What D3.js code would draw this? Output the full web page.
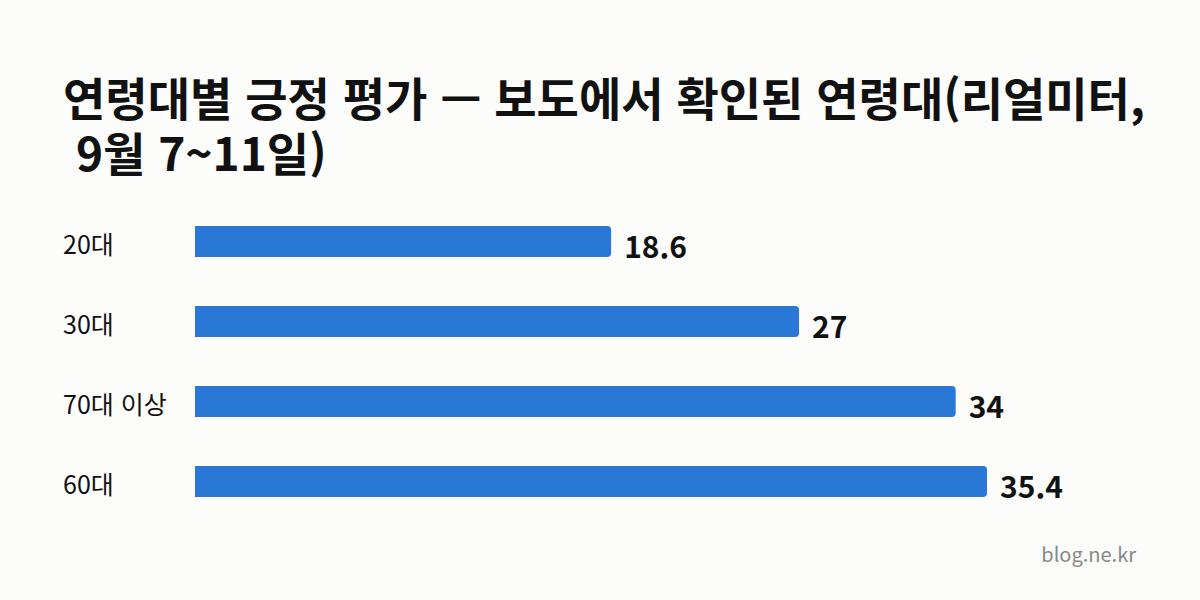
<!doctype html>
<html lang="ko">
<head>
<meta charset="utf-8">
<title>연령대별 긍정 평가</title>
<style>
  html, body { margin: 0; padding: 0; background: #fcfcfa; }
  svg { display: block; font-family: "Noto Sans CJK KR", "Noto Sans", sans-serif; }
</style>
</head>
<body>
<div id="chart"></div>
<script src="https://cdn.jsdelivr.net/npm/d3@7"></script>
<script>
// data
const categories = ["20대", "30대", "70대 이상", "60대"];
const values = [18.6, 27, 34, 35.4];
const titleLines = ["연령대별 긍정 평가 — 보도에서 확인된 연령대(리얼미터,", " 9월 7~11일)"];
const source = "blog.ne.kr";

const width = 1200, height = 600;
const barLeft = 195, barRight = 987; // bar area
const barTop = 226, bandStep = 80, barH = 31;

const svg = d3.select("#chart").append("svg")
  .attr("width", width)
  .attr("height", height);

svg.append("rect").attr("width", width).attr("height", height).attr("fill", "#fcfcfa");

// title, two lines
const title = svg.append("text")
  .attr("x", 63)
  .attr("y", 116)
  .attr("font-size", 46)
  .attr("font-weight", "bold")
  .attr("fill", "#111");
title.selectAll("tspan")
  .data(titleLines)
  .enter().append("tspan")
  .attr("x", 63)
  .attr("dy", (d, i) => i === 0 ? 0 : 55)
  .style("white-space", "pre")
  .text(d => d);

const xScale = d3.scaleLinear()
  .domain([0, d3.max(values)])
  .range([barLeft, barRight]);

// range sized so step = bandStep and bandwidth = barH
const yScale = d3.scaleBand()
  .domain(categories)
  .range([barTop, barTop + bandStep * (categories.length - 1) + barH])
  .paddingInner((bandStep - barH) / bandStep)
  .paddingOuter(0);

const rows = categories.map((c, i) => ({ cat: c, val: values[i] }));

// bar with rounded right end
function barPath(d) {
  const x0 = xScale(0), x1 = xScale(d.val), y0 = yScale(d.cat), h = yScale.bandwidth(), r = 4;
  return `M${x0},${y0}H${x1 - r}Q${x1},${y0} ${x1},${y0 + r}V${y0 + h - r}Q${x1},${y0 + h} ${x1 - r},${y0 + h}H${x0}Z`;
}

const g = svg.append("g");

g.selectAll(".bar")
  .data(rows)
  .enter().append("path")
  .attr("class", "bar")
  .attr("d", barPath)
  .attr("fill", "#2a78d6");

// category labels
g.selectAll(".cat")
  .data(rows)
  .enter().append("text")
  .attr("class", "cat")
  .attr("x", 63)
  .attr("y", d => yScale(d.cat) + yScale.bandwidth() / 2 + 12)
  .attr("font-size", 25)
  .attr("fill", "#111")
  .text(d => d.cat);

// value labels
g.selectAll(".val")
  .data(rows)
  .enter().append("text")
  .attr("class", "val")
  .attr("x", d => xScale(d.val) + 13)
  .attr("y", d => yScale(d.cat) + yScale.bandwidth() / 2 + 16.5)
  .attr("font-size", 30)
  .attr("font-weight", "bold")
  .attr("fill", "#111")
  .text(d => d.val);

// source
svg.append("text")
  .attr("x", 1136)
  .attr("y", 562)
  .attr("text-anchor", "end")
  .attr("font-size", 20)
  .attr("fill", "#888")
  .text(source);
</script>
</body>
</html>
